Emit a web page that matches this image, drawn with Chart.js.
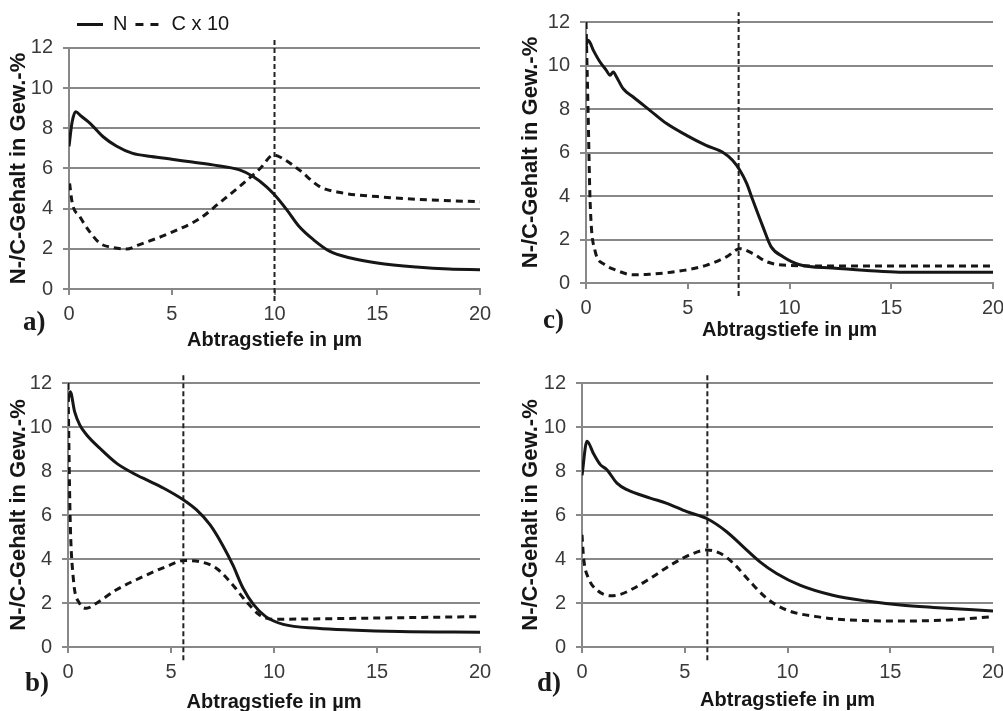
<!DOCTYPE html>
<html>
<head>
<meta charset="utf-8">
<script src="https://cdn.jsdelivr.net/npm/chart.js@4.4.1/dist/chart.umd.min.js"></script>
<style>
  html, body { margin: 0; padding: 0; background: #fff; width: 1003px; height: 711px; overflow: hidden; }
  .panel { position: absolute; }
  .tag { position: absolute; font: bold 27px "Liberation Serif", "Times New Roman", serif; line-height: 27px; color: #1a1a1a; }
</style>
</head>
<body>
<div class="panel" style="left:0;top:0;width:501px;height:355px"><canvas id="chartA"></canvas></div>
<div class="panel" style="left:0;top:355px;width:501px;height:370px"><canvas id="chartB"></canvas></div>
<div class="panel" style="left:500px;top:0;width:520px;height:355px"><canvas id="chartC"></canvas></div>
<div class="panel" style="left:500px;top:355px;width:520px;height:370px"><canvas id="chartD"></canvas></div>
<div class="tag" style="left:23px;top:308px">a)</div>
<div class="tag" style="left:25px;top:669px">b)</div>
<div class="tag" style="left:543px;top:306px">c)</div>
<div class="tag" style="left:537px;top:669px">d)</div>
<script>
// series names and axis ticks
const seriesNames = ['N', 'C x 10'];
const xTicks = [0, 5, 10, 15, 20];
const yTicks = [0, 2, 4, 6, 8, 10, 12];
const xTitle = 'Abtragstiefe in µm';
const yTitle = 'N-/C-Gehalt in Gew.-%';

// a)
const aNx = [0, 0.15, 0.32, 0.6, 0.93, 1.17, 1.66, 2.3, 3.1, 4, 5, 6, 7, 8.3, 8.96, 9.6, 10, 10.6, 11.2, 11.9, 12.7, 13.7, 15, 16.9, 18.5, 20];
const aNy = [7.1, 8.3, 8.82, 8.6, 8.33, 8.1, 7.58, 7.12, 6.75, 6.6, 6.46, 6.32, 6.18, 5.93, 5.6, 5.1, 4.69, 3.94, 3.11, 2.45, 1.87, 1.54, 1.29, 1.09, 0.99, 0.96];
const aCx = [0.03, 0.16, 0.52, 1.0, 1.5, 2.0, 2.8, 3.4, 4.9, 6.4, 7.3, 8.3, 9.3, 9.95, 10.4, 11.2, 12.2, 13.2, 15, 16.9, 20];
const aCy = [5.26, 4.27, 3.61, 2.86, 2.28, 2.09, 1.99, 2.2, 2.78, 3.53, 4.27, 5.1, 6.0, 6.67, 6.5, 5.93, 5.1, 4.8, 4.6, 4.47, 4.34];

// b)
const bNx = [0, 0.11, 0.32, 0.57, 0.9, 1.54, 2.35, 3.16, 3.97, 4.78, 5.6, 6.23, 6.9, 7.5, 8.0, 8.5, 9.0, 9.6, 10.45, 12.1, 13.7, 16.1, 20];
const bNy = [11.2, 11.6, 10.7, 10.1, 9.65, 9.04, 8.36, 7.9, 7.53, 7.15, 6.69, 6.24, 5.55, 4.64, 3.73, 2.67, 1.94, 1.38, 1.03, 0.85, 0.77, 0.7, 0.67];
const bCx = [0, 0.1, 0.25, 0.55, 0.9, 1.38, 2.35, 3.48, 4.78, 5.64, 6.4, 7.2, 8.0, 8.66, 9.3, 9.96, 11.25, 13.7, 20];
const bCy = [12, 6, 3.2, 2.0, 1.76, 1.99, 2.6, 3.13, 3.66, 3.93, 3.88, 3.58, 2.82, 2.06, 1.46, 1.26, 1.27, 1.3, 1.38];

// c)
const cNx = [0, 0.11, 0.36, 0.69, 1.0, 1.18, 1.34, 1.5, 1.83, 2.32, 3.14, 3.96, 4.94, 5.9, 6.7, 7.2, 7.56, 7.9, 8.2, 8.7, 9.1, 9.7, 10.5, 12.1, 13.8, 15.4, 20];
const cNy = [10.9, 11.16, 10.7, 10.16, 9.78, 9.55, 9.7, 9.47, 8.93, 8.55, 7.94, 7.33, 6.79, 6.33, 6.02, 5.64, 5.18, 4.57, 3.8, 2.57, 1.66, 1.2, 0.84, 0.69, 0.58, 0.5, 0.5];
const cCx = [0, 0.1, 0.2, 0.44, 0.85, 1.5, 2.3, 3.1, 4.8, 5.9, 6.9, 7.56, 8.2, 8.9, 9.85, 12.1, 20];
const cCy = [12, 8, 3.8, 1.5, 0.89, 0.58, 0.38, 0.4, 0.58, 0.81, 1.2, 1.58, 1.35, 0.97, 0.81, 0.78, 0.78];

// d)
const dNx = [0, 0.24, 0.57, 0.89, 1.21, 1.7, 2.19, 3.32, 4.13, 5.1, 6.07, 7.04, 7.85, 8.66, 9.47, 10.6, 12.2, 13.85, 15.5, 17.1, 20];
const dNy = [7.8, 9.35, 8.77, 8.29, 8.06, 7.45, 7.15, 6.77, 6.53, 6.15, 5.84, 5.24, 4.55, 3.87, 3.34, 2.81, 2.35, 2.09, 1.91, 1.8, 1.64];
const dCx = [0, 0.08, 0.32, 0.73, 1.38, 1.86, 2.5, 3.32, 4.45, 5.43, 6.07, 6.72, 7.37, 8.18, 8.99, 9.96, 11.4, 13.0, 15.5, 17.9, 20];
const dCy = [5.1, 4.03, 3.12, 2.59, 2.33, 2.39, 2.66, 3.12, 3.8, 4.26, 4.41, 4.26, 3.8, 2.97, 2.21, 1.68, 1.38, 1.23, 1.18, 1.23, 1.38];

// depth of the dashed marker line in a), b), c), d)
const markerDepth = [10, 5.6, 7.5, 6.1];
const markerSpan = [-0.6, 12.45];

const ink = '#161616';
const gridGray = '#888888';

function pts(xs, ys) {
  return xs.map((x, i) => ({ x: x, y: ys[i] }));
}

// legend samples: solid for N, "- -" for C
function legendLabels(chart) {
  const items = Chart.defaults.plugins.legend.labels.generateLabels(chart);
  items.forEach(item => {
    const ds = chart.data.datasets[item.datasetIndex];
    item.lineDash = ds.borderDash ? [8, 7] : [];
  });
  return items;
}

function makeChart(id, p) {
  return new Chart(document.getElementById(id), {
    type: 'line',
    data: {
      datasets: [
        { label: seriesNames[0], data: pts(p.nx, p.ny), borderColor: ink, borderWidth: 3,
          pointRadius: 0, cubicInterpolationMode: 'monotone', fill: false },
        { label: seriesNames[1], data: pts(p.cx, p.cy), borderColor: ink, borderWidth: 3, borderDash: [7, 5],
          pointRadius: 0, cubicInterpolationMode: 'monotone', fill: false },
        { label: 'marker', data: [{ x: p.marker, y: markerSpan[0] }, { x: p.marker, y: markerSpan[1] }],
          borderColor: '#222', borderWidth: 2, borderDash: [5, 3], pointRadius: 0, clip: false }
      ]
    },
    options: {
      responsive: true,
      maintainAspectRatio: false,
      animation: false,
      events: [],
      layout: { padding: p.pad },
      plugins: {
        tooltip: { enabled: false },
        // empty title used as a small spacer between legend and plot
        title: p.legend ? { display: true, text: '', weight: 100, fullSize: false, padding: 0,
          font: { size: 2.9, lineHeight: 1.2 } } : { display: false },
        legend: p.legend ? {
          display: true, position: 'top', align: 'start', fullSize: false,
          labels: {
            usePointStyle: true, pointStyle: 'line', pointStyleWidth: 26, padding: 8,
            color: ink, font: { family: 'Liberation Sans', size: 20 },
            generateLabels: legendLabels,
            filter: item => item.datasetIndex < 2
          }
        } : { display: false }
      },
      scales: {
        x: {
          type: 'linear', min: 0, max: 20,
          afterBuildTicks: s => { s.ticks = xTicks.map(v => ({ value: v })); },
          afterFit: s => { s.height = p.xAxisH; },
          grid: { drawOnChartArea: false, drawTicks: true, tickLength: 6, color: gridGray, lineWidth: 2 },
          border: { color: gridGray, width: 2 },
          ticks: { padding: 7, color: '#3a3a3a', font: { family: 'Liberation Sans', size: 20 }, maxRotation: 0 },
          title: { display: true, text: xTitle, color: ink, padding: 0,
            font: { family: 'Liberation Sans', size: 20, weight: 'bold' } }
        },
        y: {
          min: 0, max: 12,
          afterBuildTicks: s => { s.ticks = yTicks.map(v => ({ value: v })); },
          afterFit: s => { s.width = p.yAxisW; },
          grid: { color: gridGray, lineWidth: 2, tickLength: 6 },
          border: { color: gridGray, width: 2 },
          ticks: { padding: 10, color: '#3a3a3a', font: { family: 'Liberation Sans', size: 20 } },
          title: { display: true, text: yTitle, color: ink, padding: { top: 6, bottom: 0 },
            font: { family: 'Liberation Sans', size: 22, weight: 'bold' } }
        }
      }
    }
  });
}

makeChart('chartA', { nx: aNx, ny: aNy, cx: aCx, cy: aCy, marker: markerDepth[0], legend: true,
  pad: { left: 0, top: 6.5, right: 21, bottom: 3 }, yAxisW: 69, xAxisH: 63 });
makeChart('chartB', { nx: bNx, ny: bNy, cx: bCx, cy: bCy, marker: markerDepth[1],
  pad: { left: 0, top: 28, right: 21, bottom: 11 }, yAxisW: 68, xAxisH: 67 });
makeChart('chartC', { nx: cNx, ny: cNy, cx: cCx, cy: cCy, marker: markerDepth[2],
  pad: { left: 12, top: 22, right: 27, bottom: 13 }, yAxisW: 74, xAxisH: 59 });
makeChart('chartD', { nx: dNx, ny: dNy, cx: dCx, cy: dCy, marker: markerDepth[3],
  pad: { left: 12, top: 28, right: 27, bottom: 13 }, yAxisW: 70, xAxisH: 65 });
</script>
</body>
</html>
